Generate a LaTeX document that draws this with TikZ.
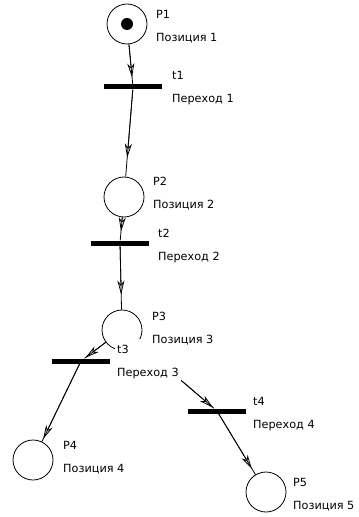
\documentclass[tikz,border=0pt]{standalone}
\usepackage{fontspec}
\setmainfont{DejaVu Sans}
\usetikzlibrary{arrows.meta}

\begin{document}
\begin{tikzpicture}[x=1bp, y=-1bp,
  place/.style={draw, circle, line width=0.8bp, minimum size=40bp, inner sep=0pt},
  token/.style={fill=black, circle, minimum size=12bp, inner sep=0pt},
  bar/.style={fill=black, minimum width=58bp, minimum height=5bp, inner sep=0pt},
  lbl/.style={anchor=north west, align=left, fill=white, inner xsep=2bp,
              inner ysep=6bp, font=\fontsize{11.3}{23}\selectfont},
  flow/.style={line width=0.8bp,
               postaction={draw, -{Stealth[open, length=14bp, width=7bp, inset=4bp]},
                           shorten >=#1}},
  flow/.default=6bp,
  ]
  \useasboundingbox (0,0) rectangle (358,517);

  % places
  \node[place] (p1) at (127,24) {};
  \node[token] (m1) at (p1) {};
  \node[place] (p2) at (124,197) {};
  \node[place] (p3) at (122,330) {};
  \node[place] (p4) at (33,460) {};
  \node[place] (p5) at (266,492) {};

  % transitions
  \node[bar] (t1) at (133,87) {};
  \node[bar] (t2) at (120,243) {};
  \node[bar] (t3) at (81,361) {};
  \node[bar] (t4) at (217,411) {};

  % arcs
  \draw[flow=7bp] (p1) -- (t1);
  \draw[flow=19bp] (t1) -- (p2);
  \draw[flow=9bp] (p2) -- (t2);
  \draw[flow=15bp] (t2) -- (p3);
  \draw[flow=1bp] (p3) -- (t3);
  \draw[flow=3bp] (t3) -- (p4);
  \draw[flow=1bp] (p3) -- (t4);
  \draw[flow=7bp] (t4) -- (p5);

  % labels (transitions first, places on top)
  \node[lbl] (t1l) at (170,65) {t1\\Переход 1};
  \node[lbl] (t2l) at (156,223) {t2\\Переход 2};
  \node[lbl] (t3l) at (115,339) {t3\\Переход 3};
  \node[lbl] (t4l) at (251,391) {t4\\Переход 4};
  \node[lbl] (p1l) at (154,4) {P1\\Позиция 1};
  \node[lbl] (p2l) at (151,171) {P2\\Позиция 2};
  \node[lbl] (p3l) at (150,306) {P3\\Позиция 3};
  \node[lbl] (p4l) at (61,435) {P4\\Позиция 4};
  \node[lbl] (p5l) at (291,472) {P5\\Позиция 5};
\end{tikzpicture}
\end{document}
